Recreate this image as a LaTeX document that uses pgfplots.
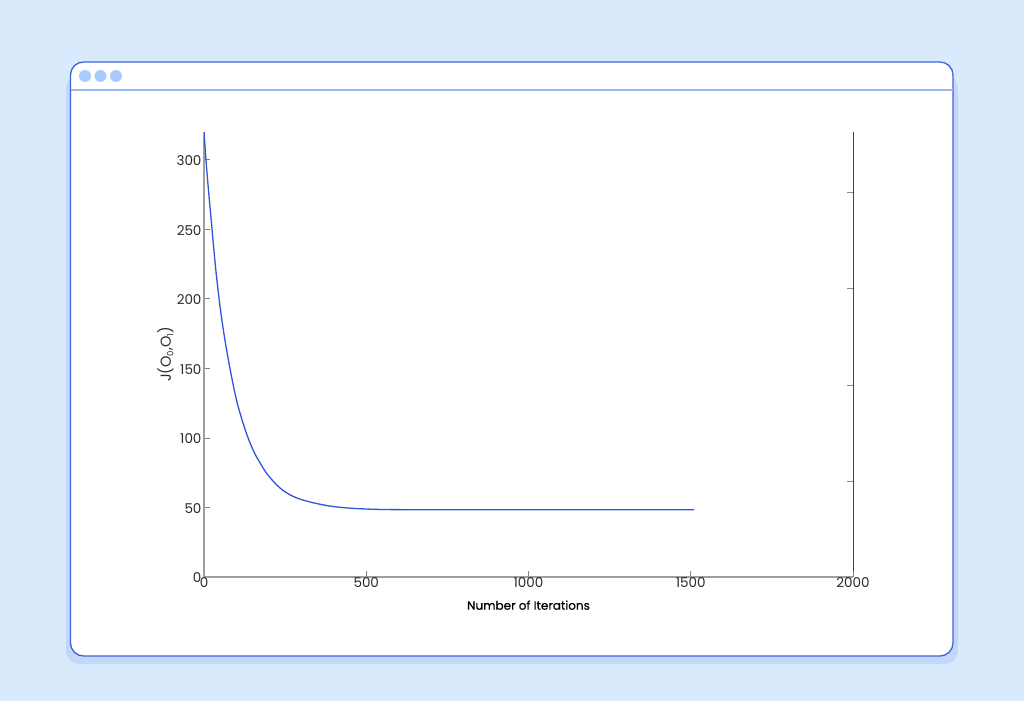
\documentclass[border=0pt]{standalone}
\usepackage{fontspec}
\setmainfont{Poppins}
\usepackage{pgfplots}
\pgfplotsset{compat=1.18}
\definecolor{bg}{HTML}{DAEAFD}
\definecolor{shadow}{HTML}{C3D8F8}
\definecolor{frame}{HTML}{3F63DD}
\definecolor{headline}{HTML}{9DB7F5}
\definecolor{dot}{HTML}{A9CBFF}
\definecolor{curve}{HTML}{2F55D8}
\definecolor{txt}{HTML}{2A2A2A}
\pgfplotstableread{
x y
0 320
10 288.5
24 252
35 224
47 199
60 177
76 155
91 137
103 124.5
116 114
129 104.5
142 96.4
157 88.5
173 82
190 75.5
209 70
225 66
245 62
270 58.5
296 56
336 53.4
388 51
450 49.5
540 48.6
700 48.4
1510 48.4
}\costdata
\begin{document}
\begin{tikzpicture}[x=1pt,y=1pt]
\fill[bg] (0,0) rectangle (1024,701);
\fill[shadow,rounded corners=13pt] (66,37) rectangle (958,626);
\filldraw[fill=white,draw=frame,line width=1.3pt,rounded corners=13pt] (70.5,45) rectangle (953,639);
\draw[headline,line width=1.1pt] (71,611) -- (952.5,611);
\fill[dot] (85,625) circle (6pt);
\fill[dot] (100.5,625) circle (6pt);
\fill[dot] (116,625) circle (6pt);
\begin{axis}[
  at={(204pt,124pt)}, anchor=south west,
  scale only axis, width=649pt, height=445pt,
  xmin=0, xmax=2000, ymin=0, ymax=320,
  axis y line*=right, axis x line*=bottom,
  xtick=\empty, xticklabels={},
  x axis line style={draw=none,-},
  ytick={69.1,138.1,207.2,276.3}, yticklabels={},
  tick align=inside, major tick length=6pt,
  y axis line style={draw=black!75,line width=0.9pt,-},
  ytick style={draw=black!45,line width=0.8pt},
]
\end{axis}
\begin{axis}[
  at={(204pt,124pt)}, anchor=south west,
  scale only axis, width=649pt, height=445pt,
  xmin=0, xmax=2000, ymin=0, ymax=320,
  axis x line*=bottom, axis y line*=left,
  xtick={0,500,1000,1500,2000},
  ytick={0,50,100,150,200,250,300},
  tick align=inside, major tick length=6pt,
  axis line style={draw=black!38,line width=1.2pt,-},
  tick style={draw=black!50,line width=0.8pt},
  /pgf/number format/assume math mode=true,
  /pgf/number format/1000 sep={},
  tick label style={font=\fontsize{13.5}{15}\selectfont,text=txt},
  xticklabel style={yshift=2.5pt},
  yticklabel style={xshift=1pt,yshift=-1pt},
  xlabel={\fontsize{12}{14}\selectfont\addfontfeature{FakeBold=0.5}Number of Iterations},
  xlabel style={text=black,at={(axis description cs:0.5,0)},anchor=north,yshift=-20pt},
  ylabel={\fontsize{14.5}{16}\selectfont J(O\raisebox{-2.5pt}{\fontsize{8.5}{9}\selectfont 0},O\raisebox{-2.5pt}{\fontsize{8.5}{9}\selectfont 1})},
  ylabel style={text=txt,at={(axis description cs:0,0.5)},anchor=south,yshift=27pt},
]
\addplot[curve,line width=1.3pt,smooth,tension=0.5,no marks] table[x=x,y=y] {\costdata};
\end{axis}
\end{tikzpicture}
\end{document}
